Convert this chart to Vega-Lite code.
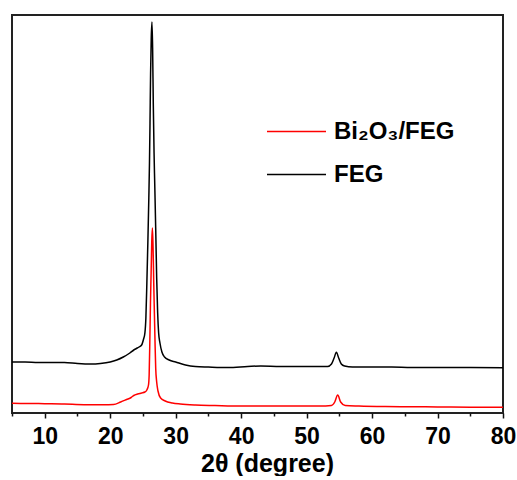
{
  "$schema": "https://vega.github.io/schema/vega-lite/v6.json",
  "width": 491,
  "height": 398,
  "padding": {"left": 11, "top": 15, "right": 5, "bottom": 0},
  "background": "white",
  "config": {
    "view": {"stroke": "#222222", "strokeWidth": 2},
    "font": "Liberation Sans"
  },
  "datasets": {
    "xrd": [
      {"two_theta": 5, "intensity": 51, "sample": "FEG"},
      {"two_theta": 7, "intensity": 51, "sample": "FEG"},
      {"two_theta": 9, "intensity": 50.5, "sample": "FEG"},
      {"two_theta": 11, "intensity": 50.5, "sample": "FEG"},
      {"two_theta": 13, "intensity": 50.5, "sample": "FEG"},
      {"two_theta": 15, "intensity": 49.5, "sample": "FEG"},
      {"two_theta": 17, "intensity": 49, "sample": "FEG"},
      {"two_theta": 18.5, "intensity": 49.5, "sample": "FEG"},
      {"two_theta": 20, "intensity": 51, "sample": "FEG"},
      {"two_theta": 21, "intensity": 53, "sample": "FEG"},
      {"two_theta": 22, "intensity": 56, "sample": "FEG"},
      {"two_theta": 23, "intensity": 60, "sample": "FEG"},
      {"two_theta": 23.6, "intensity": 63, "sample": "FEG"},
      {"two_theta": 24.0, "intensity": 64.5, "sample": "FEG"},
      {"two_theta": 24.4, "intensity": 66, "sample": "FEG"},
      {"two_theta": 24.8, "intensity": 68, "sample": "FEG"},
      {"two_theta": 25.1, "intensity": 74, "sample": "FEG"},
      {"two_theta": 25.3, "intensity": 80, "sample": "FEG"},
      {"two_theta": 25.45, "intensity": 95, "sample": "FEG"},
      {"two_theta": 25.6, "intensity": 130, "sample": "FEG"},
      {"two_theta": 25.75, "intensity": 170, "sample": "FEG"},
      {"two_theta": 25.9, "intensity": 215, "sample": "FEG"},
      {"two_theta": 26.0, "intensity": 250, "sample": "FEG"},
      {"two_theta": 26.08, "intensity": 290, "sample": "FEG"},
      {"two_theta": 26.17, "intensity": 340, "sample": "FEG"},
      {"two_theta": 26.27, "intensity": 375, "sample": "FEG"},
      {"two_theta": 26.38, "intensity": 391, "sample": "FEG"},
      {"two_theta": 26.48, "intensity": 365, "sample": "FEG"},
      {"two_theta": 26.58, "intensity": 310, "sample": "FEG"},
      {"two_theta": 26.7, "intensity": 260, "sample": "FEG"},
      {"two_theta": 26.8, "intensity": 230, "sample": "FEG"},
      {"two_theta": 26.95, "intensity": 185, "sample": "FEG"},
      {"two_theta": 27.1, "intensity": 135, "sample": "FEG"},
      {"two_theta": 27.25, "intensity": 100, "sample": "FEG"},
      {"two_theta": 27.4, "intensity": 80, "sample": "FEG"},
      {"two_theta": 27.6, "intensity": 70, "sample": "FEG"},
      {"two_theta": 27.9, "intensity": 61, "sample": "FEG"},
      {"two_theta": 28.3, "intensity": 56, "sample": "FEG"},
      {"two_theta": 29.0, "intensity": 53, "sample": "FEG"},
      {"two_theta": 30.0, "intensity": 51, "sample": "FEG"},
      {"two_theta": 31.5, "intensity": 48, "sample": "FEG"},
      {"two_theta": 33, "intensity": 46.5, "sample": "FEG"},
      {"two_theta": 35, "intensity": 46, "sample": "FEG"},
      {"two_theta": 38, "intensity": 45.5, "sample": "FEG"},
      {"two_theta": 41, "intensity": 46.5, "sample": "FEG"},
      {"two_theta": 43, "intensity": 47, "sample": "FEG"},
      {"two_theta": 46, "intensity": 46.5, "sample": "FEG"},
      {"two_theta": 49, "intensity": 46.5, "sample": "FEG"},
      {"two_theta": 52, "intensity": 46.5, "sample": "FEG"},
      {"two_theta": 53.2, "intensity": 46.5, "sample": "FEG"},
      {"two_theta": 53.8, "intensity": 49, "sample": "FEG"},
      {"two_theta": 54.2, "intensity": 55, "sample": "FEG"},
      {"two_theta": 54.55, "intensity": 60.7, "sample": "FEG"},
      {"two_theta": 54.9, "intensity": 55, "sample": "FEG"},
      {"two_theta": 55.3, "intensity": 49, "sample": "FEG"},
      {"two_theta": 55.8, "intensity": 47, "sample": "FEG"},
      {"two_theta": 57, "intensity": 46, "sample": "FEG"},
      {"two_theta": 60, "intensity": 46, "sample": "FEG"},
      {"two_theta": 63, "intensity": 46, "sample": "FEG"},
      {"two_theta": 66, "intensity": 45.5, "sample": "FEG"},
      {"two_theta": 70, "intensity": 45.5, "sample": "FEG"},
      {"two_theta": 75, "intensity": 45.5, "sample": "FEG"},
      {"two_theta": 80, "intensity": 45.3, "sample": "FEG"},

      {"two_theta": 5, "intensity": 9.7, "sample": "Bi₂O₃/FEG"},
      {"two_theta": 8, "intensity": 9.5, "sample": "Bi₂O₃/FEG"},
      {"two_theta": 10, "intensity": 9.3, "sample": "Bi₂O₃/FEG"},
      {"two_theta": 13, "intensity": 9, "sample": "Bi₂O₃/FEG"},
      {"two_theta": 16, "intensity": 8.3, "sample": "Bi₂O₃/FEG"},
      {"two_theta": 19, "intensity": 8.3, "sample": "Bi₂O₃/FEG"},
      {"two_theta": 20.5, "intensity": 8.5, "sample": "Bi₂O₃/FEG"},
      {"two_theta": 21.6, "intensity": 11, "sample": "Bi₂O₃/FEG"},
      {"two_theta": 22.5, "intensity": 13.5, "sample": "Bi₂O₃/FEG"},
      {"two_theta": 23.2, "intensity": 15.5, "sample": "Bi₂O₃/FEG"},
      {"two_theta": 23.6, "intensity": 17.5, "sample": "Bi₂O₃/FEG"},
      {"two_theta": 24.2, "intensity": 19, "sample": "Bi₂O₃/FEG"},
      {"two_theta": 24.8, "intensity": 20, "sample": "Bi₂O₃/FEG"},
      {"two_theta": 25.3, "intensity": 21, "sample": "Bi₂O₃/FEG"},
      {"two_theta": 25.6, "intensity": 23, "sample": "Bi₂O₃/FEG"},
      {"two_theta": 25.85, "intensity": 28, "sample": "Bi₂O₃/FEG"},
      {"two_theta": 25.95, "intensity": 38, "sample": "Bi₂O₃/FEG"},
      {"two_theta": 26.05, "intensity": 70, "sample": "Bi₂O₃/FEG"},
      {"two_theta": 26.15, "intensity": 110, "sample": "Bi₂O₃/FEG"},
      {"two_theta": 26.25, "intensity": 140, "sample": "Bi₂O₃/FEG"},
      {"two_theta": 26.35, "intensity": 172, "sample": "Bi₂O₃/FEG"},
      {"two_theta": 26.45, "intensity": 185, "sample": "Bi₂O₃/FEG"},
      {"two_theta": 26.55, "intensity": 165, "sample": "Bi₂O₃/FEG"},
      {"two_theta": 26.65, "intensity": 130, "sample": "Bi₂O₃/FEG"},
      {"two_theta": 26.75, "intensity": 100, "sample": "Bi₂O₃/FEG"},
      {"two_theta": 26.85, "intensity": 70, "sample": "Bi₂O₃/FEG"},
      {"two_theta": 26.95, "intensity": 45, "sample": "Bi₂O₃/FEG"},
      {"two_theta": 27.1, "intensity": 31, "sample": "Bi₂O₃/FEG"},
      {"two_theta": 27.3, "intensity": 22, "sample": "Bi₂O₃/FEG"},
      {"two_theta": 27.7, "intensity": 15, "sample": "Bi₂O₃/FEG"},
      {"two_theta": 28.4, "intensity": 12, "sample": "Bi₂O₃/FEG"},
      {"two_theta": 29.5, "intensity": 10, "sample": "Bi₂O₃/FEG"},
      {"two_theta": 30.7, "intensity": 9, "sample": "Bi₂O₃/FEG"},
      {"two_theta": 33, "intensity": 8, "sample": "Bi₂O₃/FEG"},
      {"two_theta": 36, "intensity": 7.5, "sample": "Bi₂O₃/FEG"},
      {"two_theta": 40, "intensity": 7, "sample": "Bi₂O₃/FEG"},
      {"two_theta": 44, "intensity": 7, "sample": "Bi₂O₃/FEG"},
      {"two_theta": 48, "intensity": 7, "sample": "Bi₂O₃/FEG"},
      {"two_theta": 52, "intensity": 7, "sample": "Bi₂O₃/FEG"},
      {"two_theta": 53.8, "intensity": 7.5, "sample": "Bi₂O₃/FEG"},
      {"two_theta": 54.3, "intensity": 11, "sample": "Bi₂O₃/FEG"},
      {"two_theta": 54.75, "intensity": 18, "sample": "Bi₂O₃/FEG"},
      {"two_theta": 55.2, "intensity": 11, "sample": "Bi₂O₃/FEG"},
      {"two_theta": 55.9, "intensity": 7.5, "sample": "Bi₂O₃/FEG"},
      {"two_theta": 58, "intensity": 7, "sample": "Bi₂O₃/FEG"},
      {"two_theta": 62, "intensity": 6.5, "sample": "Bi₂O₃/FEG"},
      {"two_theta": 66, "intensity": 6.3, "sample": "Bi₂O₃/FEG"},
      {"two_theta": 70, "intensity": 6, "sample": "Bi₂O₃/FEG"},
      {"two_theta": 75, "intensity": 5.8, "sample": "Bi₂O₃/FEG"},
      {"two_theta": 80, "intensity": 5.7, "sample": "Bi₂O₃/FEG"}
    ]
  },
  "data": {"name": "xrd"},
  "mark": {"type": "line", "strokeWidth": 1.5, "strokeJoin": "round", "interpolate": "monotone", "clip": true},
  "encoding": {
    "x": {
      "field": "two_theta",
      "type": "quantitative",
      "scale": {"domain": [5, 80], "nice": false, "zero": false},
      "axis": {
        "title": "2θ (degree)",
        "values": [5, 10, 15, 20, 25, 30, 35, 40, 45, 50, 55, 60, 65, 70, 75, 80],
        "labelExpr": "datum.value % 10 === 0 ? datum.label : ''",
        "domain": false,
        "grid": false,
        "ticks": true,
        "tickColor": "#111111",
        "tickWidth": 1.5,
        "tickSize": {"condition": {"test": "datum.value % 10 === 0", "value": 5}, "value": 3},
        "labelFont": "Liberation Sans",
        "labelFontWeight": "bold",
        "labelFontSize": 23,
        "labelColor": "#000000",
        "labelPadding": 7,
        "labelOverlap": false,
        "labelFlush": false,
        "labelBound": false,
        "titleFont": "Liberation Sans",
        "titleFontWeight": "bold",
        "titleFontSize": 25,
        "titleColor": "#000000",
        "titlePadding": 3,
        "titleX": 255,
        "titleAlign": "center"
      }
    },
    "y": {
      "field": "intensity",
      "type": "quantitative",
      "scale": {"domain": [0, 398], "nice": false, "zero": false},
      "axis": null
    },
    "color": {
      "field": "sample",
      "type": "nominal",
      "scale": {"domain": ["Bi₂O₃/FEG", "FEG"], "range": ["#ff0000", "#000000"]},
      "legend": {
        "title": null,
        "orient": "none",
        "legendX": 254,
        "legendY": 86,
        "padding": 0,
        "symbolType": "stroke",
        "symbolSize": 3481,
        "symbolStrokeWidth": 1.5,
        "labelFont": "Liberation Sans, DejaVu Sans",
        "labelFontWeight": "bold",
        "labelFontSize": 24,
        "labelColor": "#000000",
        "labelOffset": 7,
        "rowPadding": -1
      }
    }
  }
}
